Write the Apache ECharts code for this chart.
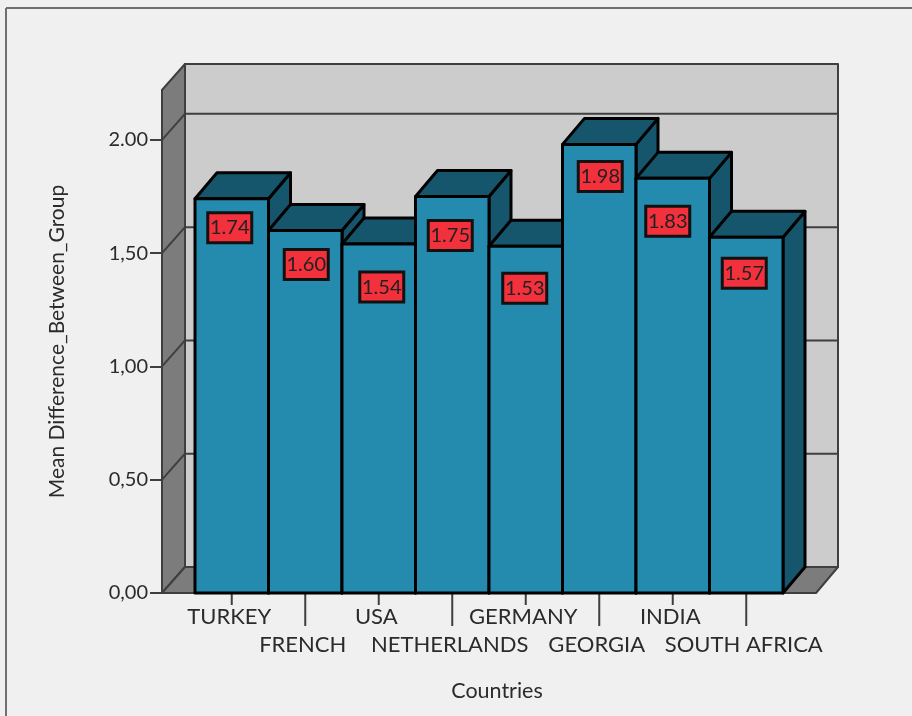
<!DOCTYPE html>
<html><head><meta charset="utf-8">
<style>html,body{margin:0;padding:0;background:#f0f0f0}#c{width:912px;height:716px}</style>
<script src="https://cdn.jsdelivr.net/npm/echarts@6/dist/echarts.min.js"></script>
</head><body><div id="c"></div>
<script>
const categories = ['TURKEY','FRENCH','USA','NETHERLANDS','GERMANY','GEORGIA','INDIA','SOUTH AFRICA'];
const values = [1.74,1.60,1.54,1.75,1.53,1.98,1.83,1.57];
const barLabels = ['1.74','1.60','1.54','1.75','1.53','1.98','1.83','1.57'];
const yTickLabels = {'0':'0,00','0.5':'0,50','1':'1,00','1.5':'1,50','2':'2.00'};
const gridValues = [0.5,1,1.5,2];
// layout of the value tags, relative to the top centre of each bar
const tagOffsets = [[-2,29],[1,34],[3,43],[-2,39],[-1,42],[1,32],[-5,43],[-2,36]];

const FONT = 'Lato, "Open Sans", sans-serif';
const DX = 22, DY = -26, AXIS_GAP = 33, RIGHT_GAP = 33;
const INK = '#2b2b2b', FRONT = '#248bae', DARK = '#16566c', WALL = '#cccccc', SIDE = '#7c7c7c', RED = '#f2313d', LINE = '#3f3f3f';

function poly(pts, fill, stroke, lw){
  return {type:'polygon', shape:{points:pts}, style:{fill:fill, stroke:stroke, lineWidth:lw, lineJoin:'round'}};
}
function seg(a,b,stroke,lw){
  return {type:'line', shape:{x1:a[0],y1:a[1],x2:b[0],y2:b[1]}, style:{stroke:stroke,lineWidth:lw}};
}

function renderWalls(params, api){
  const cs = params.coordSys;
  const L = cs.x - AXIS_GAP, R = cs.x + cs.width + RIGHT_GAP, T = cs.y, B = cs.y + cs.height;
  const kids = [
    poly([[L+DX+1,T+DY],[R+DX,T+DY],[R+DX,B+DY],[L+DX+1,B+DY]], WALL, LINE, 2),
    poly([[L,T],[L+DX+1,T+DY],[L+DX+1,B+DY],[L,B]], SIDE, LINE, 2),
    poly([[L,B],[L+DX+1,B+DY],[R+DX,B+DY],[R,B]], SIDE, LINE, 2)
  ];
  gridValues.forEach(v => {
    const y = api.coord([0,v])[1];
    kids.push(seg([L,y],[L+DX+1,y+DY],LINE,2));
    kids.push(seg([L+DX+1,y+DY],[R+DX,y+DY],LINE,2));
  });
  kids.push(seg([L,B],[R,B],LINE,2));
  return {type:'group', children:kids};
}

function renderBar(params, api){
  const i = api.value(0), v = api.value(1);
  const c = api.coord([i,v]), o = api.coord([i,0]);
  const w = api.size([1,0])[0];
  const x0 = c[0]-w/2, x1 = c[0]+w/2, t = c[1], b = o[1];
  const off = tagOffsets[i];
  const tx = c[0]+off[0], ty = t+off[1];
  const long = i % 2 === 1;
  return {type:'group', children:[
    seg([c[0],b],[c[0],b+(long?33:12)],LINE,2),
    poly([[x1,t],[x1+DX,t+DY],[x1+DX,b+DY],[x1,b]], DARK, '#000', 3),
    poly([[x0,t],[x0+DX,t+DY],[x1+DX,t+DY],[x1,t]], DARK, '#000', 3),
    poly([[x0,t],[x1,t],[x1,b],[x0,b]], FRONT, '#000', 3),
    {type:'rect', shape:{x:tx-22,y:ty-15,width:44,height:30}, style:{fill:RED,stroke:'#111',lineWidth:3}},
    {type:'text', x:tx, y:ty, style:{text:barLabels[i], fill:'#222', font:'20px '+FONT, align:'center', verticalAlign:'middle'}}
  ]};
}

const chart = echarts.init(document.getElementById('c'), null, {renderer:'canvas'});
chart.setOption({
  backgroundColor:'#f0f0f0',
  animation:false,
  graphic:[
    {type:'line', z:0, shape:{x1:6,y1:8,x2:912,y2:8}, style:{stroke:'#707070',lineWidth:2}},
    {type:'line', z:0, shape:{x1:6,y1:8,x2:6,y2:716}, style:{stroke:'#707070',lineWidth:2}}
  ],
  grid:{left:195, top:90, width:588, height:503},
  xAxis:{type:'category', data:categories, boundaryGap:true,
    name:'Countries', nameLocation:'middle', nameGap:87,
    nameTextStyle:{color:INK, fontFamily:FONT, fontSize:21.5, padding:[0,0,0,16]},
    axisLine:{show:false}, axisTick:{show:false},
    axisLabel:{interval:0, hideOverlap:false, color:INK, fontFamily:FONT, fontSize:22, margin:10, lineHeight:28, padding:[0,5,0,0],
      formatter:(v,i)=> i%2===1 ? '\n'+v : v}
  },
  yAxis:{type:'value', min:0, max:2.22, interval:0.5, offset:AXIS_GAP,
    name:'Mean Difference_Between_Group', nameLocation:'middle', nameGap:94, nameRotate:90,
    nameTextStyle:{color:INK, fontFamily:FONT, fontSize:21},
    splitLine:{show:false},
    axisLine:{show:true,lineStyle:{color:LINE,width:2}},
    axisTick:{show:true,length:12,lineStyle:{color:LINE,width:2}},
    axisLabel:{color:INK, fontFamily:FONT, fontSize:20, margin:14, padding:[4,0,0,0], showMaxLabel:false,
      formatter:v=>yTickLabels[String(v)] || ''}
  },
  series:[
    {type:'custom', coordinateSystem:'cartesian2d', z:1, clip:false, silent:true, data:[[0,0]], renderItem:renderWalls, encode:{x:0,y:1}},
    {type:'custom', coordinateSystem:'cartesian2d', z:2, clip:false, silent:true, data:values.map((v,i)=>[i,v]), renderItem:renderBar, encode:{x:0,y:1}}
  ]
});
</script></body></html>
